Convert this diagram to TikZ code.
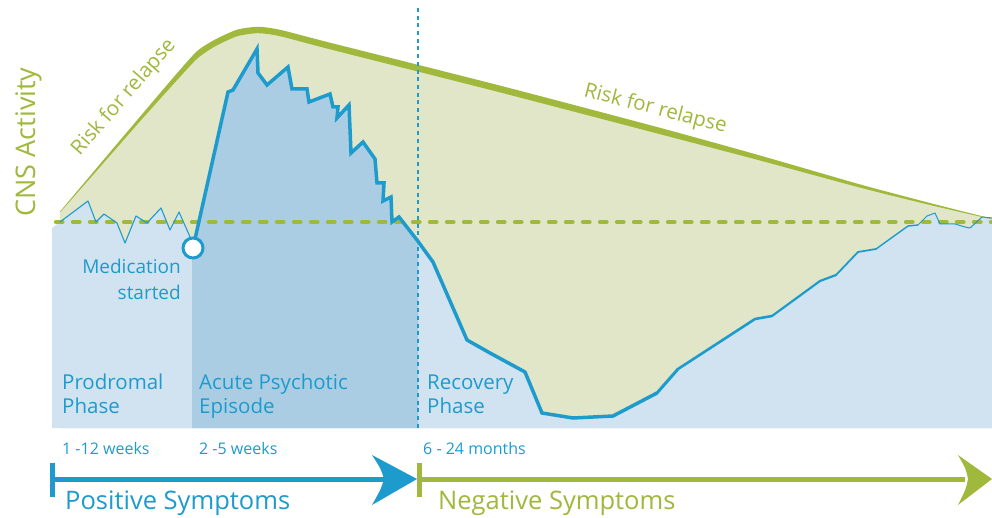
\documentclass[tikz,border=0pt]{standalone}
\usepackage{fontspec}
\setmainfont{Open Sans}
\definecolor{cblue}{RGB}{30,155,205}
\definecolor{lblue}{RGB}{209,227,240}
\definecolor{dblue}{RGB}{170,205,228}
\definecolor{gfill}{RGB}{225,230,200}
\definecolor{gline}{RGB}{160,184,60}
\tikzset{
  phase/.style={text=cblue, font=\fontsize{20.5}{24}\selectfont, anchor=base west, inner sep=0},
  dur/.style={text=cblue, font=\fontsize{16}{18}\selectfont, anchor=base west, inner sep=0},
  sympt/.style={font=\fontsize{25.5}{28}\selectfont, anchor=base west, inner sep=0},
  risk/.style={text=gline, font=\fontsize{20.5}{24}\selectfont, anchor=base, inner sep=0},
  medtxt/.style={text=cblue, font=\fontsize{19}{24}\selectfont, anchor=base east, inner sep=0}
}
\begin{document}
\begin{tikzpicture}[x=1pt,y=-1pt]
\useasboundingbox (0,0) rectangle (992,518);
\fill[white] (0,0) rectangle (992,518);
% green area under risk curve
\fill[gfill] (60,222) -- (60,212) -- plot[smooth,tension=0.4] coordinates {(60,212)(100,165.5)(140,119)(175,79)(197,55)(215,43)(237,33)(258,30)(280,33)(330,46)(500,89)(660,131)(760,158)(860,186)(930,204)(992,219)} -- (992,428) -- (60,428) -- cycle;
% light blue area under the activity curve
\fill[lblue] (52,428) -- (52,228) -- (60,222) -- (88,201) -- (96,222) -- (104,214) -- (117,223) -- (125,243) -- (136,216) -- (147,223) -- (161,208) -- (170,230) -- (179,212) -- (191,239) -- (193,248)
  -- (228,92) -- (233,90) -- (257,49) -- (258,73) -- (267,85) -- (288,67) -- (292,89) -- (307,89) -- (309,102) -- (330,94) -- (333,107) -- (338,107) -- (337,118) -- (349,105) -- (351,153) -- (363,142) -- (375,159) -- (377,183) -- (384,183) -- (383,201) -- (391,197) -- (392,222) -- (399,217) -- (417,240)
  -- (433,262) -- (467,340) -- (490,353) -- (525,372) -- (542,413) -- (573,418) -- (613,416) -- (657,393) -- (678,369) -- (755,319) -- (772,316) -- (820,281) -- (836,275) -- (858,252) -- (876,249) -- (908,226) -- (918,225) -- (927,216) -- (935,213) -- (940,224) -- (955,224) -- (965,227) -- (970,228) -- (982,217) -- (992,218) -- (992,428) -- cycle;
% acute episode area
\fill[dblue] (192,428) -- (192,248) -- (228,92) -- (233,90) -- (257,49) -- (258,73) -- (267,85) -- (288,67) -- (292,89) -- (307,89) -- (309,102) -- (330,94) -- (333,107) -- (338,107) -- (337,118) -- (349,105) -- (351,153) -- (363,142) -- (375,159) -- (377,183) -- (384,183) -- (383,201) -- (391,197) -- (392,222) -- (399,217) -- (417,240) -- (418,241) -- (418,428) -- cycle;
% risk for relapse curve (tapered)
\fill[gline] plot[smooth,tension=0.4] coordinates {(60,211.6)(100,164)(140,116.7)(175,75.6)(197,51.2)(215,39.6)(237,29.7)(258,26.8)(280,29.8)(330,42.7)(500,85.6)(660,127.8)(760,155.5)(860,184.4)(930,203)(992,218.7)}
  -- plot[smooth,tension=0.4] coordinates {(992,219.3)(930,205)(860,187.6)(760,160.5)(660,134.2)(500,92.4)(330,49.3)(280,36.2)(258,33.2)(237,36.3)(215,46.4)(197,58.8)(175,82.4)(140,121.3)(100,167)(60,212.4)} -- cycle;
% baseline
\draw[gline, line width=4.2, dash pattern=on 6.5 off 10.5, line cap=round] (56,222) -- (992,222);
% phase border
\draw[cblue, line width=2, dash pattern=on 4 off 3.7] (418,8) -- (418,428);
% activity curve
\draw[cblue, line width=1.1, line join=round] (60,222) -- (88,201) -- (96,222) -- (104,214) -- (117,223) -- (125,243) -- (136,216) -- (147,223) -- (161,208) -- (170,230) -- (179,212) -- (191,239) -- (193,248);
\draw[cblue, line width=3.5] (193,248) -- (228,92) -- (233,90) -- (257,49) -- (258,73) -- (267,85) -- (288,67) -- (292,89) -- (307,89) -- (309,102) -- (330,94) -- (333,107) -- (338,107) -- (337,118) -- (349,105) -- (351,153) -- (363,142) -- (375,159) -- (377,183) -- (384,183) -- (383,201) -- (391,197) -- (392,222) -- (399,217) -- (417,240) -- (433,262) -- (467,340) -- (490,353) -- (525,372) -- (542,413) -- (573,418) -- (613,416) -- (657,393);
\draw[cblue, line width=3, line cap=round] (657,393) -- (678,369);
\draw[cblue, line width=2.6, line cap=round, line join=round] (678,369) -- (755,319) -- (772,316);
\draw[cblue, line width=2.2, line cap=round, line join=round] (772,316) -- (820,281) -- (836,275);
\draw[cblue, line width=1.8, line cap=round, line join=round] (836,275) -- (858,252) -- (876,249);
\draw[cblue, line width=1.4, line cap=round, line join=round] (876,249) -- (908,226) -- (918,225);
\draw[cblue, line width=1.0, line join=round] (918,225) -- (927,216) -- (935,213) -- (940,224) -- (955,224) -- (965,227) -- (970,228) -- (982,217) -- (992,218);
% medication marker
\node[circle, draw=cblue, fill=white, line width=3, minimum size=20, inner sep=0] (medpt) at (193,248) {};
% texts
\node[text=gline, font=\fontsize{27}{32}\selectfont, rotate=90, anchor=base, inner sep=0] (cns) at (35,142) {CNS Activity};
\node[risk, rotate=49] (risk1) at (128,101) {Risk for relapse};
\node[risk, rotate=-14.5] (risk2) at (654,114.5) {Risk for relapse};
\node[medtxt] (med1) at (181,274) {Medication};
\node[medtxt] (med2) at (181,299) {started};
\node[phase] (pro1) at (62,389) {Prodromal};
\node[phase] (pro2) at (62,413) {Phase};
\node[phase] (acu1) at (199,389) {Acute Psychotic};
\node[phase] (acu2) at (199,413) {Episode};
\node[phase] (rec1) at (427,389) {Recovery};
\node[phase] (rec2) at (427,413) {Phase};
\node[dur] (d1) at (62,454) {1 -12 weeks};
\node[dur] (d2) at (199,454) {2 -5 weeks};
\node[dur] (d3) at (423,454) {6 - 24 months};
% symptom arrows
\coordinate (pstart) at (52,479);
\coordinate (ptip) at (417,479);
\coordinate (nstart) at (419,479);
\coordinate (ntip) at (992,479);
\draw[cblue, line width=5] (pstart) -- (385,479);
\fill[cblue] (49.5,463) rectangle (54.5,497);
\fill[cblue] (ptip) -- (372,455) .. controls (381,469) .. (384,479) .. controls (381,489) .. (372,505) -- cycle;
\draw[gline, line width=5] (nstart) -- (965,479);
\fill[gline] (416.5,463) rectangle (421.5,497);
\fill[gline] (ntip) -- (958,455) .. controls (966,469) .. (968,479) .. controls (966,489) .. (958,505) -- cycle;
\node[sympt, text=cblue] (pos) at (65,509) {Positive Symptoms};
\node[sympt, text=gline] (neg) at (438,509) {Negative Symptoms};
\end{tikzpicture}
\end{document}
